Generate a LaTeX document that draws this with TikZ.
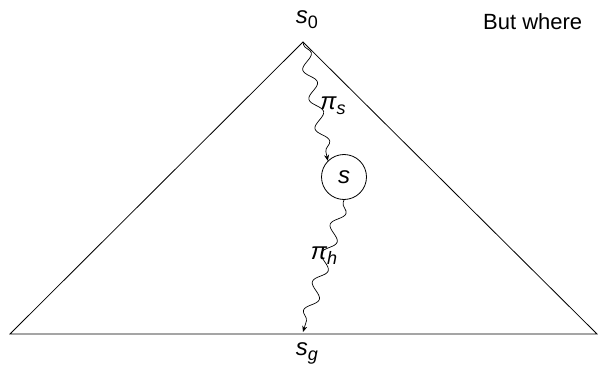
\documentclass[tikz,border=0pt]{standalone}
\usepackage{fontspec}
\setmainfont{Liberation Sans}
\usetikzlibrary{decorations.pathmorphing,arrows.meta}
\newcommand{\mysub}[1]{\raisebox{-5pt}{\fontsize{18}{18}\selectfont #1}}
\begin{document}
\begin{tikzpicture}[x=1pt,y=-1pt,
  lbl/.style={font=\fontsize{24}{26}\selectfont, inner sep=0pt},
  wavy/.style={decorate, decoration={snake, segment length=30pt, amplitude=6pt, pre length=3pt, post length=4pt}, line width=0.7pt, -{Stealth[length=6pt,width=5pt]}},
  edge/.style={line width=0.8pt}]
\useasboundingbox (0,0) rectangle (598,369);
\coordinate (apex) at (303,42);
\coordinate (bl) at (10,334);
\coordinate (br) at (597,334);
\coordinate (goal) at (303,332);
\draw[edge] (bl) -- (apex) -- (br) -- cycle;
\node[draw, circle, minimum size=45pt, inner sep=0pt, line width=0.8pt, lbl] (s) at (344,177) {\textit{s}};
\node[lbl] (s0) at (307,20) {\textit{s}\mysub{0}};
\node[lbl] (sg) at (307,353) {\textit{s}\mysub{\textit{g}}};
\node[lbl, anchor=west, font=\fontsize{22}{24}\selectfont] (bw) at (483,22) {But where};
\draw[wavy] (apex) -- (s.north west);
\draw[wavy] (s.south) -- (goal);
\node[lbl] (pis) at (333,106) {\textit{π}\mysub{\textit{s}}};
\node[lbl] (pih) at (324,256) {\textit{π}\mysub{\textit{h}}};
\end{tikzpicture}
\end{document}
